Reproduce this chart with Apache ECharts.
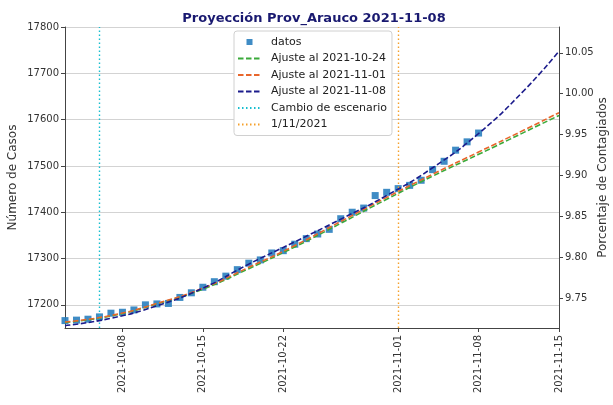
<!DOCTYPE html>
<html>
<head>
<meta charset="utf-8">
<script src="https://cdn.jsdelivr.net/npm/echarts@6/dist/echarts.min.js"></script>
<style>
  html, body { margin: 0; padding: 0; background: #fff; }
  #chart { width: 613px; height: 405px; }
</style>
</head>
<body>
<div id="chart"></div>
<script>
// datos observados (casos acumulados)
const datosFechas = [
  '2021-10-03', '2021-10-04', '2021-10-05', '2021-10-06', '2021-10-07', '2021-10-08', '2021-10-09',
  '2021-10-10', '2021-10-11', '2021-10-12', '2021-10-13', '2021-10-14', '2021-10-15', '2021-10-16',
  '2021-10-17', '2021-10-18', '2021-10-19', '2021-10-20', '2021-10-21', '2021-10-22', '2021-10-23',
  '2021-10-24', '2021-10-25', '2021-10-26', '2021-10-27', '2021-10-28', '2021-10-29', '2021-10-30',
  '2021-10-31', '2021-11-01', '2021-11-02', '2021-11-03', '2021-11-04', '2021-11-05', '2021-11-06',
  '2021-11-07', '2021-11-08'
];
const datosCasos = [
  17166, 17167, 17169, 17174, 17182, 17184, 17189,
  17200, 17202, 17203, 17216, 17226, 17238, 17250,
  17262, 17276, 17290, 17297, 17312, 17317, 17331,
  17343, 17353, 17363, 17386, 17400, 17409, 17436,
  17443, 17451, 17458, 17469, 17492, 17510, 17534,
  17552, 17571
];

const ajusteFechas = ['2021-10-03', '2021-10-07', '2021-10-11', '2021-10-15', '2021-10-19', '2021-10-23',
  '2021-10-27', '2021-10-31', '2021-11-04', '2021-11-08', '2021-11-12', '2021-11-15'];
const ajuste1024 = [17162, 17176, 17202, 17234, 17278, 17325, 17376, 17428, 17478, 17525, 17573, 17609];
const ajuste1101 = [17163, 17177, 17203, 17236, 17281, 17328, 17380, 17432, 17482, 17530, 17578, 17615];
const ajuste1108 = [17155, 17171, 17198, 17236, 17288, 17336, 17385, 17436, 17496, 17570, 17664, 17748];

const cambioEscenario = '2021-10-06';
const fechaCorte = '2021-11-01';

const ticksFecha = ['2021-10-08', '2021-10-15', '2021-10-22', '2021-11-01', '2021-11-08', '2021-11-15'];
const ticksCasos = [17200, 17300, 17400, 17500, 17600, 17700, 17800];
const ticksPorcentaje = [9.75, 9.80, 9.85, 9.90, 9.95, 10.00, 10.05];

const casosMin = 17150, casosMax = 17800;
const poblacion = 176560;
const fechaMin = '2021-10-03', fechaMax = '2021-11-15';

const font = 'DejaVu Sans';
const toTime = s => echarts.time.parse(s).getTime();
const pares = (xs, ys) => xs.map((x, i) => [toTime(x), ys[i]]);

const myChart = echarts.init(document.getElementById('chart'));

const option = {
  animation: false,
  textStyle: { fontFamily: font },
  title: {
    text: 'Proyección Prov_Arauco 2021-11-08',
    left: 309,
    textAlign: 'center',
    top: 7,
    textStyle: { fontFamily: font, fontSize: 13, fontWeight: 'bold', color: '#191970' }
  },
  legend: {
    orient: 'vertical',
    left: 234,
    top: 31,
    padding: [4, 5, 4, 3],
    backgroundColor: '#fff',
    borderColor: '#d0d0d0',
    borderWidth: 1,
    borderRadius: 3,
    itemWidth: 23,
    itemHeight: 6,
    itemGap: 2.5,
    itemStyle: { opacity: 0 },
    textStyle: { fontFamily: font, fontSize: 11, color: '#222', lineHeight: 14, padding: [0, 0, 0, 5] },
    data: [
      { name: 'datos', icon: 'path://M0,0H10V10H0Z', itemStyle: { opacity: 0.9, color: '#2a7fbf' } },
      'Ajuste al 2021-10-24',
      'Ajuste al 2021-11-01',
      'Ajuste al 2021-11-08',
      'Cambio de escenario',
      '1/11/2021'
    ]
  },
  grid: { left: 65, right: 54, top: 27, bottom: 77, outerBoundsMode: 'none', containLabel: false },
  xAxis: {
    type: 'value',
    min: toTime(fechaMin),
    max: toTime(fechaMax),
    axisLine: { lineStyle: { color: '#444', width: 1 } },
    axisTick: { length: 4, lineStyle: { color: '#444' }, customValues: ticksFecha.map(toTime) },
    axisLabel: {
      rotate: 90,
      margin: 7,
      fontSize: 10,
      color: '#333',
      customValues: ticksFecha.map(toTime),
      formatter: v => echarts.time.format(v, '{yyyy}-{MM}-{dd}', false)
    },
    splitLine: { show: false }
  },
  yAxis: [
    {
      type: 'value',
      min: casosMin,
      max: casosMax,
      minInterval: 100,
      maxInterval: 100,
      name: 'Número de Casos',
      nameLocation: 'middle',
      nameGap: 46,
      nameMoveOverlap: false,
      nameTextStyle: { fontFamily: font, fontSize: 12, color: '#333' },
      axisLine: { show: true, lineStyle: { color: '#444' } },
      axisTick: { show: true, length: 4, lineStyle: { color: '#444' }, customValues: ticksCasos },
      axisLabel: { fontSize: 10, color: '#333', margin: 6, customValues: ticksCasos, formatter: v => String(v) },
      splitLine: { lineStyle: { color: '#d3d3d3', width: 1 } }
    },
    {
      type: 'value',
      position: 'right',
      min: casosMin / poblacion * 100,
      max: casosMax / poblacion * 100,
      minInterval: 0.05,
      maxInterval: 0.05,
      name: 'Porcentaje de Contagiados',
      nameLocation: 'middle',
      nameGap: 38,
      nameMoveOverlap: false,
      nameTextStyle: { fontFamily: font, fontSize: 12, color: '#333' },
      axisLine: { show: true, lineStyle: { color: '#444' } },
      axisTick: { show: true, length: 4, lineStyle: { color: '#444' }, customValues: ticksPorcentaje },
      axisLabel: {
        fontSize: 10, color: '#333', margin: 6,
        customValues: ticksPorcentaje,
        formatter: v => v.toFixed(2)
      },
      splitLine: { show: false }
    }
  ],
  series: [
    {
      name: 'datos',
      type: 'scatter',
      symbol: 'rect',
      symbolSize: 7,
      itemStyle: { color: '#2a7fbf', opacity: 0.9 },
      data: pares(datosFechas, datosCasos),
      z: 2
    },
    {
      name: 'Ajuste al 2021-10-24',
      type: 'line',
      symbol: 'none',
      smooth: true,
      lineStyle: { color: '#3aaa3a', width: 1.6, type: [5.5, 2.5] },
      itemStyle: { color: '#3aaa3a' },
      data: pares(ajusteFechas, ajuste1024),
      z: 3
    },
    {
      name: 'Ajuste al 2021-11-01',
      type: 'line',
      symbol: 'none',
      smooth: true,
      lineStyle: { color: '#e8662c', width: 1.6, type: [5.5, 2.5] },
      itemStyle: { color: '#e8662c' },
      data: pares(ajusteFechas, ajuste1101),
      z: 4
    },
    {
      name: 'Ajuste al 2021-11-08',
      type: 'line',
      symbol: 'none',
      smooth: true,
      lineStyle: { color: '#1c1c8c', width: 1.6, type: [5.5, 2.5] },
      itemStyle: { color: '#1c1c8c' },
      data: pares(ajusteFechas, ajuste1108),
      z: 5
    },
    {
      name: 'Cambio de escenario',
      type: 'line',
      symbol: 'none',
      lineStyle: { color: '#17becf', width: 1.4, type: [1.5, 2.5] },
      itemStyle: { color: '#17becf' },
      data: [],
      markLine: {
        silent: true,
        symbol: 'none',
        label: { show: false },
        lineStyle: { color: '#17becf', width: 1.4, type: [1.5, 2.5] },
        data: [{ xAxis: toTime(cambioEscenario) }]
      }
    },
    {
      name: '1/11/2021',
      type: 'line',
      symbol: 'none',
      lineStyle: { color: '#f5a02a', width: 1.4, type: [1.5, 2.5] },
      itemStyle: { color: '#f5a02a' },
      data: [],
      markLine: {
        silent: true,
        symbol: 'none',
        label: { show: false },
        lineStyle: { color: '#f5a02a', width: 1.4, type: [1.5, 2.5] },
        data: [{ xAxis: toTime(fechaCorte) }]
      }
    }
  ]
};

myChart.setOption(option);
</script>
</body>
</html>
